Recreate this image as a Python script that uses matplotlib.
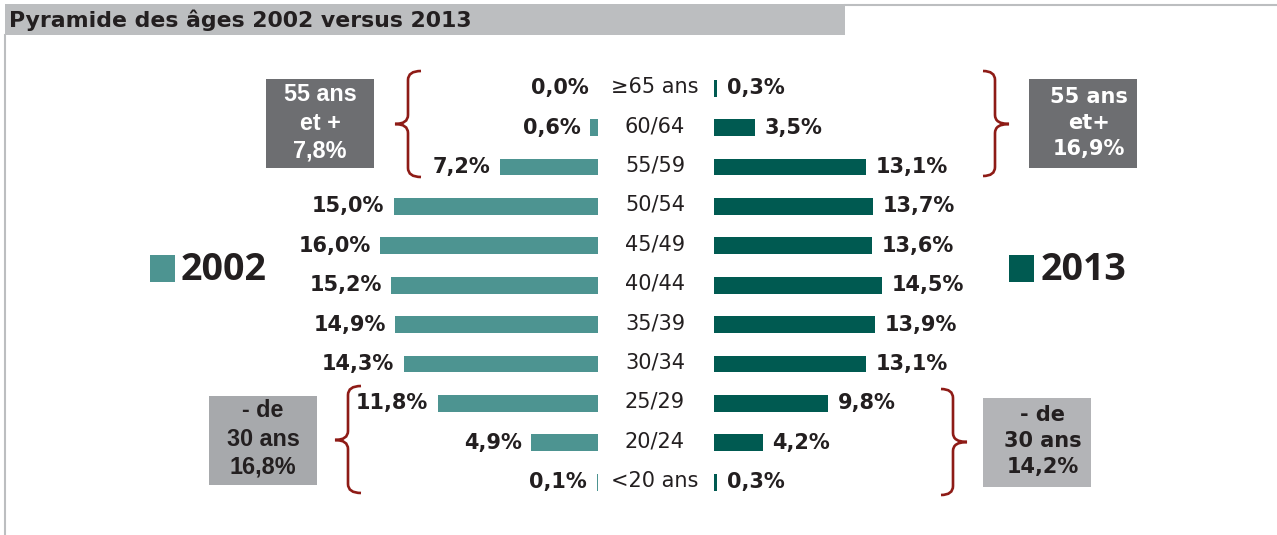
import numpy as np
import matplotlib
matplotlib.use("Agg")
import matplotlib.pyplot as plt
from matplotlib.patches import Rectangle, PathPatch
from matplotlib.path import Path
from matplotlib.transforms import blended_transform_factory

# data
ages = ["\u226565 ans", "60/64", "55/59", "50/54", "45/49", "40/44",
        "35/39", "30/34", "25/29", "20/24", "<20 ans"]
v2002 = [0.0, 0.6, 7.2, 15.0, 16.0, 15.2, 14.9, 14.3, 11.8, 4.9, 0.1]
v2013 = [0.3, 3.5, 13.1, 13.7, 13.6, 14.5, 13.9, 13.1, 9.8, 4.2, 0.3]
lbl2002 = ["0,0%", "0,6%", "7,2%", "15,0%", "16,0%", "15,2%", "14,9%", "14,3%", "11,8%", "4,9%", "0,1%"]
lbl2013 = ["0,3%", "3,5%", "13,1%", "13,7%", "13,6%", "14,5%", "13,9%", "13,1%", "9,8%", "4,2%", "0,3%"]
title = "Pyramide des âges 2002 versus 2013"
box_txt = ["55 ans\net +\n7,8%", "55 ans\net+\n16,9%", "- de\n30 ans\n16,8%", "- de\n30 ans\n14,2%"]

c2002 = "#4d9491"
c2013 = "#005a51"
dark = "#231f20"
brace_c = "#8e1b16"
W, H = 1277, 535

fig = plt.figure(figsize=(W / 100, H / 100), dpi=100)
ov = fig.add_axes([0, 0, 1, 1])
ov.set_xlim(0, W)
ov.set_ylim(H, 0)
ov.axis("off")

# header bar + frame
ov.add_patch(Rectangle((5, 4), 840, 31, color="#bcbec0", lw=0))
ov.plot([5, 5], [35, 535], color="#bcbec0", lw=1.5)
ov.plot([845, 1277], [4.5, 4.5], color="#bcbec0", lw=1.5)
ov.text(9, 20, title, fontsize=15.8, fontweight="bold", family="DejaVu Sans",
        color=dark, va="center", ha="left")

# bar axes
top, bot = 68.5, 501.9
yb = (H - bot) / H
yh = (bot - top) / H
axL = fig.add_axes([300 / W, yb, 298 / W, yh])
axR = fig.add_axes([714 / W, yb, 300 / W, yh])
for a in (axL, axR):
    a.axis("off")
    a.set_ylim(10.5, -0.5)
    a.patch.set_alpha(0)
axL.set_xlim(298 / 13.6, 0)
axR.set_xlim(0, 300 / 11.6)

y = np.arange(len(ages))
axL.barh(y, v2002, height=0.43, color=c2002)
axR.barh(y, v2013, height=0.43, color=c2013)
valfont = dict(fontsize=15, fontweight="bold", family="DejaVu Sans", color=dark)
for i in y:
    axL.text(v2002[i] + 0.7, i, lbl2002[i], ha="right", va="center", **valfont)
    axR.text(v2013[i] + 0.85, i, lbl2013[i], ha="left", va="center", **valfont)

tr = blended_transform_factory(ov.transData, axL.transData)
for i, a in enumerate(ages):
    axL.text(655, i - 0.04, a, transform=tr, ha="center", va="center", fontsize=15,
             family="DejaVu Sans", color=dark)

# legend
ov.add_patch(Rectangle((150, 255), 25, 27, color=c2002, lw=0))
ov.text(181, 270, "2002", fontsize=27, fontweight="bold", family="Open Sans",
        color=dark, va="center", ha="left")
ov.add_patch(Rectangle((1009, 255), 25, 27, color=c2013, lw=0))
ov.text(1041, 270, "2013", fontsize=27, fontweight="bold", family="Open Sans",
        color=dark, va="center", ha="left")


def brace(xe, xs, xt, y0, y1, ym):
    r = 9
    verts = [(xe, y0), (xs, y0), (xs, y0 + r),
             (xs, ym - r), (xs, ym), (xt, ym),
             (xs, ym), (xs, ym + r),
             (xs, y1 - r), (xs, y1), (xe, y1)]
    codes = [Path.MOVETO, Path.CURVE3, Path.CURVE3,
             Path.LINETO, Path.CURVE3, Path.CURVE3,
             Path.CURVE3, Path.CURVE3,
             Path.LINETO, Path.CURVE3, Path.CURVE3]
    ov.add_patch(PathPatch(Path(verts, codes), fill=False, ec=brace_c, lw=1.9,
                           capstyle="butt"))


brace(421, 408, 395, 71, 177, 124)
brace(983, 995, 1009, 71, 176, 124)
brace(361, 348, 335, 386, 493, 440)
brace(941, 953, 967, 389, 495, 442)

# annotation boxes
ov.add_patch(Rectangle((266, 79), 108, 89, color="#6d6e71", lw=0))
ov.text(320, 123, box_txt[0], ha="center", va="center", fontsize=16.8, fontweight="bold",
        family="Liberation Sans", color="white", linespacing=1.3)
ov.add_patch(Rectangle((1029, 79), 108, 89, color="#6d6e71", lw=0))
ov.text(1089, 123, box_txt[1], ha="center", va="center", fontsize=15, fontweight="bold",
        family="DejaVu Sans", color="white", linespacing=1.4)
ov.add_patch(Rectangle((209, 396), 108, 89, color="#a7a9ac", lw=0))
ov.text(263, 439, box_txt[2], ha="center", va="center", fontsize=16.8, fontweight="bold",
        family="Liberation Sans", color=dark, linespacing=1.3)
ov.add_patch(Rectangle((983, 398), 108, 89, color="#b3b4b7", lw=0))
ov.text(1043, 441, box_txt[3], ha="center", va="center", fontsize=15, fontweight="bold",
        family="DejaVu Sans", color=dark, linespacing=1.4)

fig.savefig("out.png", dpi=100)
